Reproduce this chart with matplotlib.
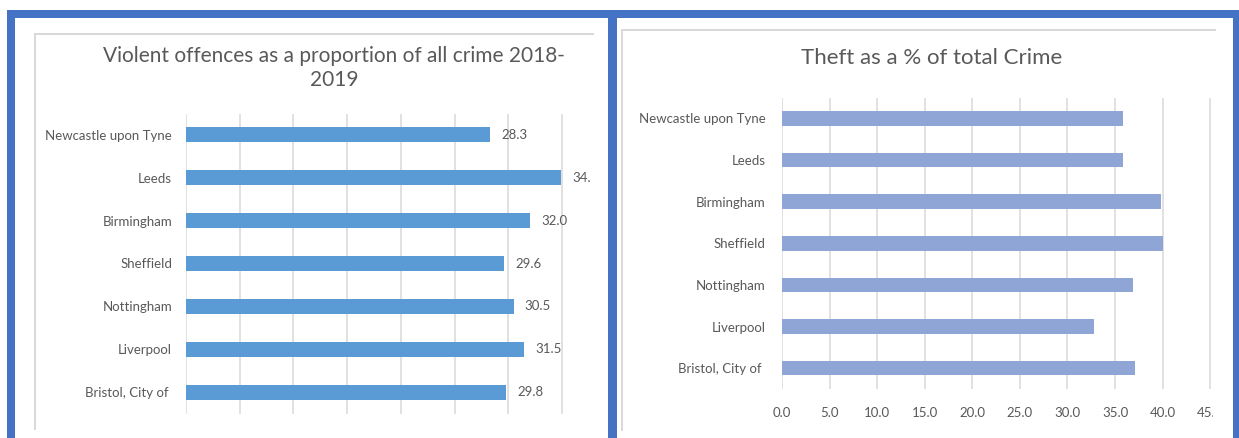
import numpy as np
import matplotlib
matplotlib.use("Agg")
import matplotlib.pyplot as plt
from matplotlib.patches import Rectangle

W, H = 1239, 438

TEXT = "#595959"
GRID = "#d9d9d9"
FRAME = "#4472c4"
VIOLENT_BLUE = "#5b9bd5"
THEFT_BLUE = "#8fa5d6"

plt.rcParams.update({
    "font.family": ["Lato", "DejaVu Sans"],
    "text.color": TEXT, "xtick.color": TEXT, "ytick.color": TEXT,
})

cities_violent = ["Newcastle upon Tyne", "Leeds", "Birmingham", "Sheffield",
                  "Nottingham", "Liverpool", "Bristol, City of "]
violent_pct = [28.3, 34.9, 32.0, 29.6, 30.5, 31.5, 29.8]

cities_theft = ["Newcastle upon Tyne", "Leeds", "Birmingham", "Sheffield",
                "Nottingham", "Liverpool", "Bristol, City of "]
theft_pct = [35.8, 35.8, 39.8, 40.0, 36.9, 32.8, 37.1]
theft_ticks = [0, 5, 10, 15, 20, 25, 30, 35, 40, 45]


def px_box(x0, y0, x1, y1):
    """pixel box (top-left origin) -> figure fraction [l, b, w, h]"""
    return [x0 / W, 1 - y1 / H, (x1 - x0) / W, (y1 - y0) / H]


def px_rect(x0, y0, x1, y1, color):
    l, b, w, h = px_box(x0, y0, x1, y1)
    return Rectangle((l, b), w, h, transform=fig.transFigure,
                     facecolor=color, edgecolor="none", zorder=5)


def clip_to(texts, box):
    # clip labels to the chart area, like the spreadsheet does
    r = px_rect(*box, "none")
    fig.add_artist(r)
    r.set_visible(False)
    for t in texts:
        t.set_clip_path(r)
        t.set_clip_on(True)


def bar_panel(ax, cities, vals, color, xmax, ticks):
    y = np.arange(len(cities))
    bars = ax.barh(y, vals, height=0.35, color=color, zorder=2)
    ax.set_yticks(y)
    ax.set_yticklabels(cities, fontsize=9.5)
    ax.set_ylim(len(cities) - 0.5, -0.5)
    ax.set_xlim(0, xmax)
    ax.set_xticks(ticks)
    ax.grid(axis="x", color=GRID, lw=1.1)
    ax.set_axisbelow(True)
    ax.tick_params(length=0)
    for s in ax.spines.values():
        s.set_visible(False)
    return bars


fig = plt.figure(figsize=(W / 100, H / 100), dpi=100)

# chart-area outlines (top and left edges only show in the crop)
for x0, x1, y0, y1 in [(34, 594, 33, 430), (621, 1216, 29, 431)]:
    fig.add_artist(px_rect(x0, y0, x1, y0 + 1.6, GRID))
    fig.add_artist(px_rect(x0, y0, x0 + 1.6, y1, GRID))

# left: violent offences
ax1 = fig.add_axes(px_box(186, 113.5, 590, 413.5))
bars = bar_panel(ax1, cities_violent, violent_pct, VIOLENT_BLUE, 37.6,
                 [0, 5, 10, 15, 20, 25, 30, 35])
ax1.tick_params(axis="y", pad=10)
ax1.set_xticklabels([])
clip_to(ax1.bar_label(bars, fmt="%.1f", padding=8, fontsize=9.5, color=TEXT),
        (34, 33, 590, 430))
fig.text(334 / W, 1 - 68 / H,
         "Violent offences as a proportion of all crime 2018-\n2019",
         ha="center", va="center", fontsize=15, color=TEXT,
         linespacing=1.3)

# right: theft
ax2 = fig.add_axes(px_box(782, 97.5, 1213, 389))
bar_panel(ax2, cities_theft, theft_pct, THEFT_BLUE, 45.3, theft_ticks)
ax2.tick_params(axis="y", pad=12)
ax2.set_xticklabels([f"{v:.1f}" for v in theft_ticks], fontsize=9.5)
ax2.tick_params(axis="x", pad=13)
clip_to(ax2.get_xticklabels(), (621, 29, 1213, 438))
fig.text(932 / W, 1 - 58 / H, "Theft as a % of total Crime",
         ha="center", va="center", fontsize=16, color=TEXT)

# blue screenshot frames
fig.add_artist(px_rect(7, 10, 1239, 18, FRAME))
fig.add_artist(px_rect(7, 10, 15, H, FRAME))
fig.add_artist(px_rect(608, 10, 617, H, FRAME))
fig.add_artist(px_rect(1233, 10, 1239, H, FRAME))

fig.savefig("out.png", dpi=100)
